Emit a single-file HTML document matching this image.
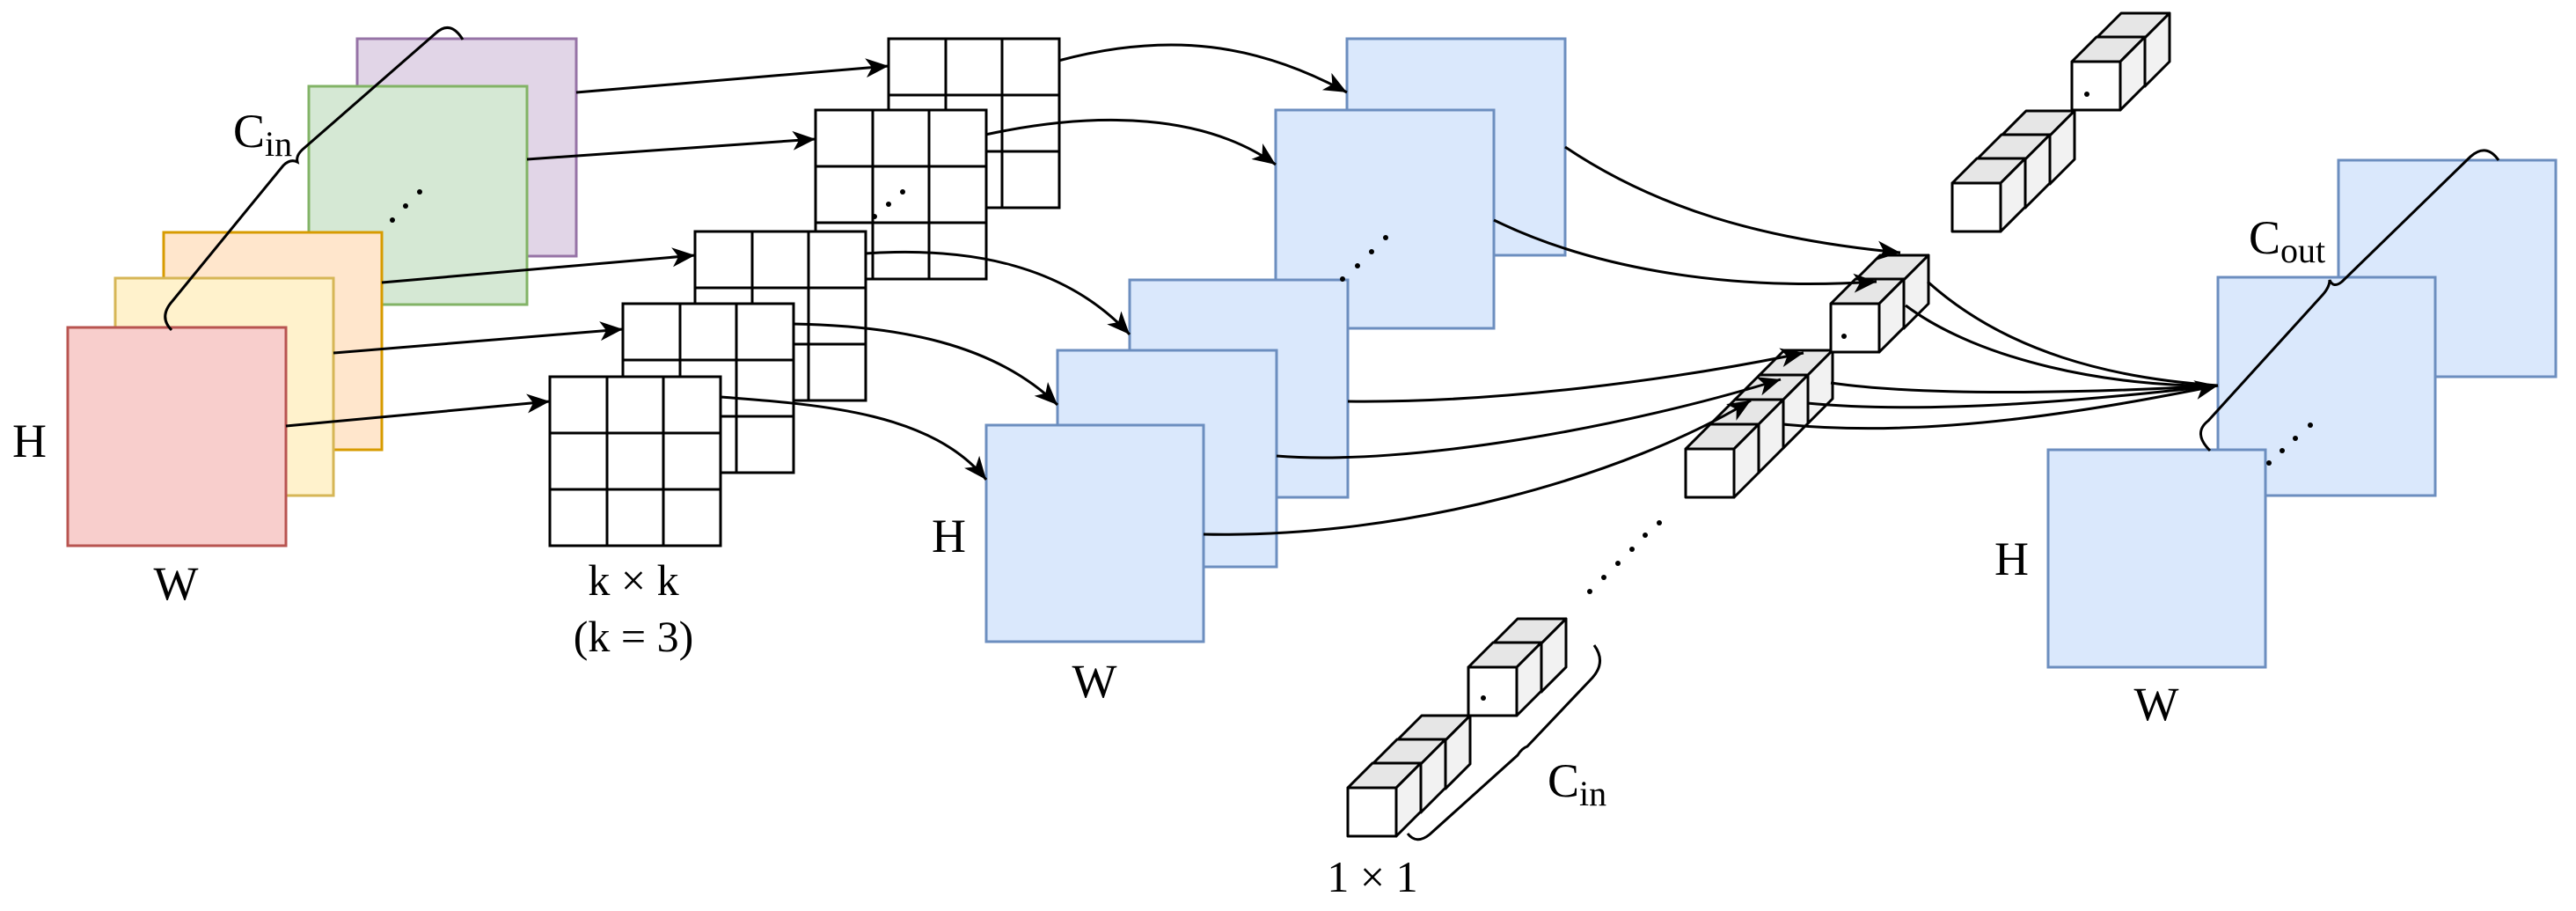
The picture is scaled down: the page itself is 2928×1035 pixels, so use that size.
<!DOCTYPE html>
<html><head><meta charset="utf-8"><style>html,body{margin:0;padding:0;background:#fff}svg{display:block}</style></head>
<body>
<svg width="2928" height="1035" viewBox="0 0 2928 1035" xmlns="http://www.w3.org/2000/svg" font-family="'Liberation Serif', serif">
<defs>
<marker id="ah" markerUnits="userSpaceOnUse" markerWidth="30" markerHeight="30" viewBox="0 0 30 30" refX="28" refY="15" orient="auto">
<path d="M2,4 L28,15 L2,26 L9,15 Z" fill="#000"/>
</marker>
<g id="cube" stroke="#000" stroke-width="3" stroke-linejoin="round">
<polygon points="0,0 28,-28 83,-28 55,0" fill="#e6e6e6"/>
<polygon points="55,0 83,-28 83,27 55,55" fill="#f2f2f2"/>
<rect x="0" y="0" width="55" height="55" fill="#fff"/>
</g>
<g id="grid" stroke="#000" stroke-width="3" fill="none">
<rect x="0" y="0" width="194" height="192" fill="#fff"/>
<line x1="65" y1="0" x2="65" y2="192"/><line x1="129" y1="0" x2="129" y2="192"/>
<line x1="0" y1="64" x2="194" y2="64"/><line x1="0" y1="128" x2="194" y2="128"/>
</g>
</defs>

<!-- input maps -->
<g stroke-width="3">
<rect x="406" y="44" width="249" height="247" fill="#e1d5e7" stroke="#9673a6"/>
<rect x="351" y="98" width="248" height="248" fill="#d5e8d4" stroke="#82b366"/>
<rect x="186" y="264" width="248" height="247" fill="#ffe6cc" stroke="#d79b00"/>
<rect x="131" y="316" width="248" height="247" fill="#fff2cc" stroke="#d6b656"/>
<rect x="77" y="372" width="248" height="248" fill="#f8cecc" stroke="#b85450"/>
</g>
<g fill="#000"><circle cx="446" cy="250" r="3"/><circle cx="461" cy="234" r="3"/><circle cx="477" cy="218" r="3"/></g>
<path d="M195,375 Q180,360 196,342 L322,188 Q330,180 338,184 Q336,176 346,168 L495,38 Q512,22 526,45" fill="none" stroke="#000" stroke-width="3"/>
<text x="265" y="167" font-size="54">C<tspan font-size="40" dy="10">in</tspan></text>
<text x="14" y="519" font-size="54">H</text>
<text x="200" y="681" font-size="54" text-anchor="middle">W</text>

<!-- straight arrows -->
<g stroke="#000" stroke-width="3" fill="none" marker-end="url(#ah)">
<line x1="655" y1="105" x2="1010" y2="75"/>
<line x1="599" y1="181" x2="927" y2="158"/>
<line x1="434" y1="321" x2="790" y2="290"/>
<line x1="379" y1="401" x2="708" y2="374"/>
<line x1="325" y1="484" x2="625" y2="456"/>
</g>

<!-- grids -->
<use href="#grid" x="1010" y="44"/>
<use href="#grid" x="927" y="125"/>
<use href="#grid" x="790" y="263"/>
<use href="#grid" x="708" y="345"/>
<use href="#grid" x="625" y="428"/>
<g fill="#000"><circle cx="994" cy="246" r="3"/><circle cx="1010" cy="232" r="3"/><circle cx="1026" cy="218" r="3"/></g>
<text x="720" y="676" font-size="50" text-anchor="middle">k × k</text>
<text x="720" y="740" font-size="50" text-anchor="middle">(k = 3)</text>

<!-- blue maps middle -->
<g stroke="#6c8ebf" stroke-width="3" fill="#dae8fc">
<rect x="1531" y="44" width="248" height="246"/>
<rect x="1450" y="125" width="248" height="248"/>
<rect x="1284" y="318" width="248" height="247"/>
<rect x="1202" y="398" width="249" height="246"/>
<rect x="1121" y="483" width="247" height="246"/>
</g>
<g fill="#000"><circle cx="1526" cy="317" r="3"/><circle cx="1543" cy="302" r="3"/><circle cx="1559" cy="286" r="3"/><circle cx="1575" cy="270" r="3"/></g>
<text x="1059" y="627" font-size="54">H</text>
<text x="1244" y="792" font-size="54" text-anchor="middle">W</text>

<!-- curves grid -> blue -->
<g stroke="#000" stroke-width="3" fill="none" marker-end="url(#ah)">
<path d="M1203,69 C1330,35 1430,50 1531,105"/>
<path d="M1120,153 C1250,125 1370,130 1450,187"/>
<path d="M983,288 C1100,280 1210,300 1284,380"/>
<path d="M901,368 C1020,370 1130,390 1202,460"/>
<path d="M819,451 C940,460 1060,470 1121,545"/>
</g>

<!-- cube chains -->
<!-- bottom -->
<use href="#cube" x="1588" y="841"/><use href="#cube" x="1560" y="868"/><use href="#cube" x="1532" y="895"/>
<use href="#cube" x="1697" y="731"/><use href="#cube" x="1669" y="758"/>
<circle cx="1686" cy="793" r="3"/>
<!-- top -->
<use href="#cube" x="2275" y="154"/><use href="#cube" x="2247" y="181"/><use href="#cube" x="2219" y="208"/>
<use href="#cube" x="2383" y="43"/><use href="#cube" x="2355" y="70"/>
<circle cx="2372" cy="107" r="3"/>
<!-- middle -->
<use href="#cube" x="2000" y="426"/><use href="#cube" x="1972" y="454"/><use href="#cube" x="1944" y="482"/><use href="#cube" x="1916" y="510"/>
<use href="#cube" x="2109" y="318"/><use href="#cube" x="2081" y="345"/>
<circle cx="2096" cy="382" r="3"/>

<g fill="#000"><circle cx="1807" cy="672" r="3"/><circle cx="1823" cy="656" r="3"/><circle cx="1839" cy="640" r="3"/><circle cx="1855" cy="624" r="3"/><circle cx="1870" cy="608" r="3"/><circle cx="1886" cy="594" r="3"/></g>
<path d="M1600,947 Q1610,960 1625,948 L1725,858 Q1730,850 1736,848 L1810,770 Q1826,752 1812,733" fill="none" stroke="#000" stroke-width="3"/>
<text x="1759" y="905" font-size="54">C<tspan font-size="40" dy="10">in</tspan></text>
<text x="1560" y="1013" font-size="50" text-anchor="middle">1 × 1</text>

<!-- blue -> cubes -->
<g stroke="#000" stroke-width="3" fill="none" marker-end="url(#ah)">
<path d="M1779,167 C1880,235 2000,272 2160,287"/>
<path d="M1698,250 C1800,300 1950,332 2133,320"/>
<path d="M1532,456 C1700,458 1900,432 2050,401"/>
<path d="M1451,518 C1600,530 1850,485 2024,431"/>
<path d="M1368,607 C1600,612 1850,540 1990,455"/>
</g>

<!-- right blue maps -->
<g stroke="#6c8ebf" stroke-width="3" fill="#dae8fc">
<rect x="2658" y="182" width="247" height="246"/>
<rect x="2521" y="315" width="247" height="248"/>
<rect x="2328" y="511" width="247" height="247"/>
</g>

<!-- cubes -> right map -->
<g stroke="#000" stroke-width="3" fill="none">
<path d="M2191,320 C2280,400 2400,430 2521,438"/>
<path d="M2166,347 C2250,410 2400,440 2521,438"/>
<path d="M2081,435 C2200,452 2400,445 2521,438"/>
<path d="M2054,458 C2200,472 2400,452 2521,438"/>
<path d="M2027,482 C2200,500 2400,462 2521,438" marker-end="url(#ah)"/>
</g>

<g fill="#000"><circle cx="2579" cy="526" r="3"/><circle cx="2594" cy="512" r="3"/><circle cx="2609" cy="498" r="3"/><circle cx="2626" cy="483" r="3"/></g>
<path d="M2512,512 Q2492,492 2510,478 L2640,335 Q2648,326 2648,318 Q2652,328 2662,320 L2808,178 Q2826,162 2840,182" fill="none" stroke="#000" stroke-width="3"/>
<text x="2556" y="288" font-size="54">C<tspan font-size="40" dy="10">out</tspan></text>
<text x="2267" y="653" font-size="54">H</text>
<text x="2451" y="818" font-size="54" text-anchor="middle">W</text>
</svg>
</body></html>
